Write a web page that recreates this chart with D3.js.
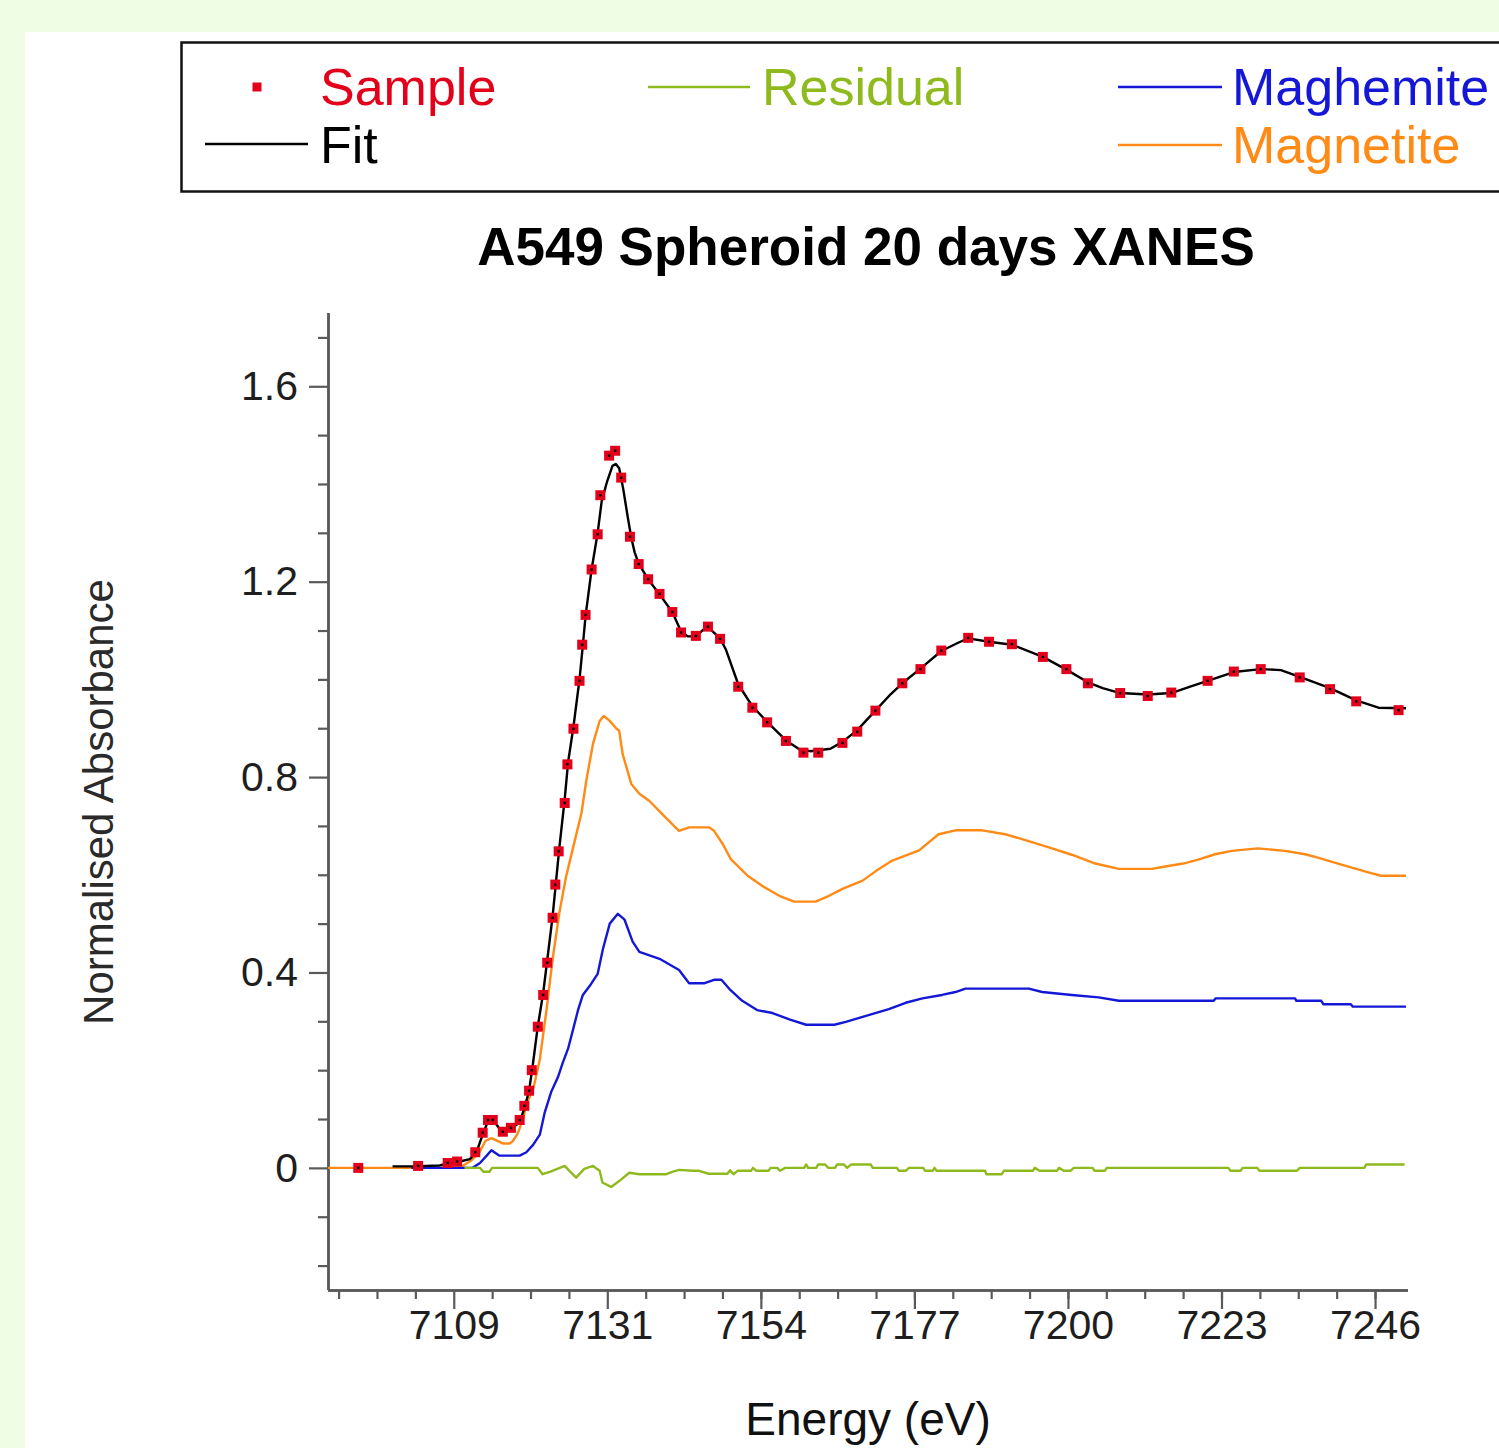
<!DOCTYPE html>
<html><head><meta charset="utf-8">
<script src="https://cdn.jsdelivr.net/npm/d3@7"></script>
<style>body{margin:0;padding:0;background:#effde4;} svg{display:block;font-family:"Liberation Sans",Arial,Helvetica,sans-serif;}</style>
</head><body>
<svg id="c" width="1499" height="1448"></svg>
<script>
// ---- data (energy eV, normalised absorbance) ----
const sampleE = [7094.3,7103.2,7107.6,7109.0,7111.7,7112.8,7113.6,7114.3,7115.8,7117.0,7118.3,7119.0,7119.7,7120.1,7121.0,7121.8,7122.4,7123.2,7123.6,7124.1,7125.0,7125.4,7126.3,7127.2,7127.6,7128.1,7129.0,7129.9,7130.3,7131.6,7132.5,7133.4,7134.7,7136.0,7137.4,7139.1,7141.0,7142.3,7144.5,7146.3,7148.1,7150.8,7152.9,7155.1,7157.9,7160.5,7162.7,7166.3,7168.5,7171.2,7175.2,7177.9,7181.0,7185.0,7188.1,7191.5,7196.1,7199.6,7202.8,7207.6,7211.7,7215.2,7220.6,7224.5,7228.5,7234.3,7238.8,7242.7,7249.0];
const sampleV = [0.000,0.004,0.010,0.013,0.032,0.072,0.098,0.098,0.074,0.082,0.098,0.127,0.158,0.200,0.289,0.354,0.420,0.512,0.580,0.648,0.747,0.826,0.899,0.997,1.071,1.132,1.225,1.297,1.377,1.458,1.468,1.413,1.292,1.236,1.205,1.175,1.138,1.096,1.089,1.108,1.083,0.985,0.942,0.912,0.874,0.850,0.850,0.870,0.893,0.936,0.992,1.021,1.059,1.085,1.077,1.072,1.046,1.021,0.992,0.972,0.966,0.973,0.997,1.016,1.021,1.004,0.980,0.955,0.937];

const fitE = [7099.4,7102.3,7106.4,7107.9,7109.4,7110.9,7111.9,7112.8,7113.6,7114.4,7115.2,7116.0,7117.0,7118.3,7119.0,7119.7,7120.2,7121.0,7121.8,7122.4,7123.2,7123.7,7124.2,7125.0,7125.5,7126.3,7127.2,7127.7,7128.1,7129.0,7129.9,7130.5,7131.3,7132.1,7132.6,7133.1,7133.7,7134.4,7134.9,7135.4,7136.0,7137.4,7139.1,7141.0,7142.3,7143.3,7144.5,7145.7,7146.4,7148.1,7149.0,7150.8,7152.9,7155.1,7157.9,7160.0,7161.5,7164.5,7166.3,7168.5,7171.2,7173.5,7175.2,7177.9,7181.0,7183.5,7185.0,7188.1,7191.5,7196.1,7199.6,7202.8,7205.0,7207.6,7211.7,7215.2,7218.0,7220.6,7224.5,7228.5,7231.5,7234.3,7238.8,7242.7,7246.0,7250.1];
const fitV = [0.003,0.003,0.005,0.010,0.013,0.018,0.033,0.068,0.096,0.097,0.082,0.074,0.079,0.094,0.122,0.158,0.205,0.290,0.358,0.425,0.515,0.585,0.655,0.755,0.830,0.903,1.000,1.070,1.130,1.225,1.300,1.365,1.405,1.437,1.441,1.432,1.390,1.330,1.290,1.260,1.237,1.205,1.174,1.138,1.098,1.088,1.088,1.103,1.106,1.084,1.060,0.990,0.945,0.913,0.875,0.856,0.853,0.858,0.872,0.896,0.936,0.970,0.992,1.022,1.058,1.075,1.084,1.077,1.071,1.046,1.020,0.994,0.982,0.972,0.969,0.972,0.985,0.997,1.015,1.021,1.019,1.005,0.982,0.957,0.942,0.941];

const magnetiteE = [7089.8,7106.4,7109.8,7111.0,7112.3,7113.2,7114.1,7115.8,7116.8,7117.3,7118.0,7118.7,7119.5,7120.3,7121.3,7122.3,7123.2,7124.2,7125.2,7126.2,7127.5,7128.2,7129.2,7130.2,7130.8,7131.7,7132.7,7133.1,7133.6,7134.9,7136.1,7137.6,7139.8,7142.0,7143.5,7146.5,7147.2,7148.5,7149.7,7152.2,7154.4,7156.9,7159.1,7162.3,7164.3,7166.3,7169.3,7171.2,7173.7,7177.7,7180.6,7183.1,7187.1,7190.5,7193.0,7197.0,7200.4,7203.9,7207.4,7212.3,7214.3,7217.0,7219.2,7221.7,7224.2,7228.1,7232.1,7235.1,7237.0,7240.0,7242.7,7244.5,7246.4,7250.1];
const magnetiteV = [0.000,0.000,0.004,0.014,0.031,0.055,0.061,0.050,0.050,0.055,0.070,0.096,0.137,0.160,0.222,0.324,0.427,0.522,0.596,0.653,0.727,0.792,0.868,0.915,0.925,0.915,0.899,0.895,0.848,0.786,0.766,0.751,0.720,0.690,0.697,0.697,0.690,0.663,0.632,0.598,0.577,0.557,0.545,0.545,0.557,0.571,0.588,0.607,0.629,0.650,0.683,0.691,0.691,0.683,0.673,0.656,0.641,0.623,0.612,0.612,0.617,0.623,0.631,0.642,0.649,0.654,0.649,0.642,0.635,0.623,0.612,0.605,0.598,0.598];

const maghemiteE = [7102.2,7111.3,7112.4,7113.4,7114.1,7115.3,7118.3,7119.3,7120.3,7121.3,7122.0,7123.0,7124.0,7124.7,7125.5,7126.2,7127.0,7127.7,7128.9,7129.9,7130.7,7131.7,7132.9,7133.9,7135.1,7136.1,7139.1,7142.0,7143.5,7145.8,7147.2,7148.3,7149.5,7151.4,7153.6,7155.9,7158.4,7160.9,7165.1,7166.8,7169.8,7173.2,7175.7,7178.2,7181.1,7183.1,7184.6,7194.0,7196.0,7200.4,7204.4,7207.4,7221.5,7221.8,7233.6,7233.8,7237.5,7237.8,7241.9,7242.2,7250.1];
const maghemiteV = [0.000,0.000,0.010,0.025,0.036,0.025,0.025,0.032,0.047,0.068,0.112,0.156,0.186,0.215,0.244,0.281,0.324,0.354,0.376,0.397,0.449,0.500,0.520,0.508,0.463,0.442,0.428,0.405,0.378,0.378,0.385,0.385,0.366,0.342,0.323,0.317,0.304,0.293,0.293,0.299,0.311,0.325,0.338,0.347,0.354,0.360,0.367,0.367,0.360,0.354,0.349,0.342,0.342,0.347,0.347,0.342,0.342,0.335,0.335,0.330,0.330];

const residualE = [7110.1,7112.4,7112.9,7113.8,7114.2,7121.0,7121.7,7122.8,7123.9,7125.0,7125.7,7126.7,7127.9,7129.2,7130.2,7130.6,7131.9,7133.1,7134.6,7136.1,7140.1,7141.0,7142.0,7144.0,7145.0,7146.4,7149.2,7149.6,7150.1,7150.7,7152.7,7153.0,7153.5,7155.3,7155.6,7156.6,7157.0,7157.8,7160.6,7160.9,7161.2,7162.4,7162.7,7163.7,7164.2,7165.2,7165.5,7166.5,7167.0,7167.6,7170.5,7170.8,7174.4,7174.7,7175.7,7176.2,7178.3,7178.6,7179.7,7180.0,7180.3,7187.5,7187.7,7190.0,7190.3,7194.6,7194.9,7195.6,7198.2,7198.5,7199.2,7200.2,7200.7,7203.5,7203.8,7205.3,7205.6,7223.7,7224.0,7225.5,7225.8,7228.0,7228.3,7233.9,7234.3,7243.9,7244.2,7249.9];
const residualV = [0,0,-0.008,-0.008,0,0,-0.013,-0.008,-0.002,0.004,-0.006,-0.020,-0.002,0.004,-0.006,-0.030,-0.039,-0.027,-0.010,-0.013,-0.013,-0.008,-0.004,-0.006,-0.006,-0.012,-0.012,-0.005,-0.013,-0.006,-0.006,0,-0.006,-0.006,0,0,-0.006,0,0,0.007,0,0,0.007,0.007,0,0,0.007,0.007,0,0.007,0.007,0,0,-0.006,-0.006,0,0,-0.006,-0.006,0,-0.006,-0.006,-0.013,-0.013,-0.006,-0.006,0,-0.006,-0.006,0,-0.006,-0.006,0,0,-0.006,-0.006,0,0,-0.006,-0.006,0,0,-0.006,-0.006,0,0,0.007,0.007];

const xMajorTicks = [7108.5,7131.333,7154.167,7177,7199.833,7222.667,7245.5];
const xTickLabels = ["7109","7131","7154","7177","7200","7223","7246"];
const yMajorTicks = [0,0.4,0.8,1.2,1.6];
const yTickLabels = ["0","0.4","0.8","1.2","1.6"];

const legendItems = [
  {name:"Sample", type:"marker", color:"#e3001b"},
  {name:"Fit", type:"line", color:"#000000"},
  {name:"Residual", type:"line", color:"#8fba1e"},
  {name:"Maghemite", type:"line", color:"#1418d6"},
  {name:"Magnetite", type:"line", color:"#ff8a16"}
];

// ---- drawing ----
const svg = d3.select("#c");
const W = 1499, H = 1448;
svg.append("rect").attr("x",0).attr("y",0).attr("width",W).attr("height",H).attr("fill","#effde4");
svg.append("rect").attr("x",25).attr("y",32).attr("width",W-25).attr("height",H-32).attr("fill","#ffffff");

const plot = {left:328, right:1408, top:313, bottom:1290};
const x = d3.scaleLinear().domain([7089.8,7250.4]).range([plot.left, plot.right]);
const y = d3.scaleLinear().domain([-0.25,1.75]).range([plot.bottom, plot.top]);

const axisColor = "#5a5a5a";
const tickFont = 41;

// Y axis
const yMinor = d3.range(-2,18).map(d=>d/10).filter(v=>!yMajorTicks.some(m=>Math.abs(m-v)<1e-6));
const gyMin = svg.append("g").attr("transform",`translate(${plot.left},0)`)
  .call(d3.axisLeft(y).tickValues(yMinor).tickSize(10).tickFormat(""));
const gy = svg.append("g").attr("transform",`translate(${plot.left},0)`)
  .call(d3.axisLeft(y).tickValues(yMajorTicks).tickSize(19).tickPadding(11)
    .tickFormat((d,i)=>yTickLabels[i]));
[gyMin, gy].forEach(g=>{
  g.select(".domain").attr("stroke",axisColor).attr("stroke-width",2.5).attr("d",`M0.5,${plot.top}V${plot.bottom}`);
  g.selectAll(".tick line").attr("stroke",axisColor).attr("stroke-width",2.2);
});
gy.selectAll(".tick text").attr("font-size",tickFont).attr("fill","#1e1e1e")
  .attr("font-family",'"Liberation Sans",Arial,sans-serif');

// X axis
const step = (xMajorTicks[1]-xMajorTicks[0])/4;
const xMinor = [];
for (let v = xMajorTicks[0]-3*step; v < 7250.4; v += step) {
  if (!xMajorTicks.some(m=>Math.abs(m-v)<1e-3)) xMinor.push(v);
}
const gxMin = svg.append("g").attr("transform",`translate(0,${plot.bottom})`)
  .call(d3.axisBottom(x).tickValues(xMinor).tickSize(9).tickFormat(""));
const gx = svg.append("g").attr("transform",`translate(0,${plot.bottom})`)
  .call(d3.axisBottom(x).tickValues(xMajorTicks).tickSize(19).tickPadding(1)
    .tickFormat((d,i)=>xTickLabels[i]));
[gxMin, gx].forEach(g=>{
  g.select(".domain").attr("stroke",axisColor).attr("stroke-width",2.5).attr("d",`M${plot.left},0.5H${plot.right}`);
  g.selectAll(".tick line").attr("stroke",axisColor).attr("stroke-width",2.2);
});
gx.selectAll(".tick text").attr("font-size",tickFont).attr("fill","#1e1e1e")
  .attr("font-family",'"Liberation Sans",Arial,sans-serif');

// lines
const line = d3.line().x(d=>x(d[0])).y(d=>y(d[1]));
function drawLine(E, V, color){
  svg.append("path").datum(E.map((e,i)=>[e,V[i]]))
    .attr("d",line).attr("fill","none").attr("stroke",color).attr("stroke-width",2.4)
    .attr("stroke-linejoin","round");
}
drawLine(magnetiteE, magnetiteV, legendItems[4].color);
drawLine(maghemiteE, maghemiteV, legendItems[3].color);
drawLine(residualE, residualV, legendItems[2].color);
drawLine(fitE, fitV, legendItems[1].color);

// sample markers
const pts = sampleE.map((e,i)=>[e,sampleV[i]]);
svg.append("g").selectAll("rect").data(pts).join("rect")
  .attr("x",d=>x(d[0])-5).attr("y",d=>y(d[1])-5).attr("width",10).attr("height",10)
  .attr("fill",legendItems[0].color);
svg.append("g").selectAll("rect").data(pts).join("rect")
  .attr("x",d=>x(d[0])-1.2).attr("y",d=>y(d[1])-1.2).attr("width",2.4).attr("height",2.4)
  .attr("fill","#000");

// title
svg.append("text").attr("x",866).attr("y",265).attr("text-anchor","middle")
  .attr("font-size",53).attr("font-weight","bold").attr("fill","#000")
  .text("A549 Spheroid 20 days XANES");

// axis titles
svg.append("text").attr("transform","translate(113,802) rotate(-90)").attr("text-anchor","middle")
  .attr("font-size",42).attr("fill","#2a2a2a").text("Normalised Absorbance");
svg.append("text").attr("x",868).attr("y",1435).attr("text-anchor","middle")
  .attr("font-size",46).attr("fill","#111").text("Energy (eV)");

// legend
svg.append("rect").attr("x",181.5).attr("y",42.5).attr("width",1340).attr("height",149)
  .attr("fill","#fff").attr("stroke","#111").attr("stroke-width",2.5);
const legPos = [
  {sx:205, ex:308, ly:87, tx:320, ty:105},
  {sx:205, ex:308, ly:144, tx:320, ty:163},
  {sx:648, ex:750, ly:87, tx:762, ty:105},
  {sx:1118, ex:1222, ly:87, tx:1232, ty:105},
  {sx:1118, ex:1222, ly:145, tx:1232, ty:163}
];
legendItems.forEach((it,i)=>{
  const p = legPos[i];
  if (it.type==="marker") {
    svg.append("rect").attr("x",252.5).attr("y",p.ly-4.5).attr("width",9).attr("height",9).attr("fill",it.color);
  } else {
    svg.append("line").attr("x1",p.sx).attr("x2",p.ex).attr("y1",p.ly).attr("y2",p.ly)
      .attr("stroke",it.color).attr("stroke-width",2.5);
  }
  svg.append("text").attr("x",p.tx).attr("y",p.ty).attr("font-size",52).attr("fill",it.color).text(it.name);
});
</script>
</body></html>
